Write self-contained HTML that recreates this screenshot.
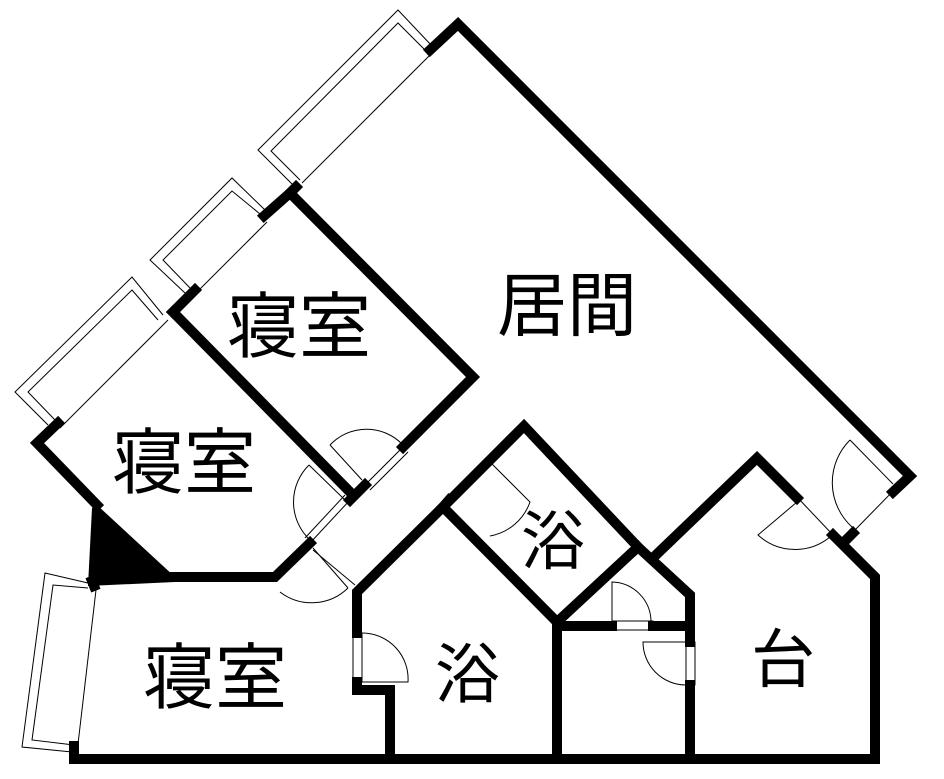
<!DOCTYPE html>
<html><head><meta charset="utf-8"><style>
html,body{margin:0;padding:0;background:#fff;}
svg{display:block;}
text{font-family:"Liberation Sans","Noto Sans CJK JP",sans-serif;fill:#000;}
</style></head><body>
<svg width="944" height="779" viewBox="0 0 944 779" xmlns="http://www.w3.org/2000/svg">
<g fill="none" stroke="#000" stroke-width="1">
<polyline points="432,46 398,10 258,150 296,188"/>
<polyline points="425,50 398,23 271,151 300,180"/>
<line x1="430" y1="55" x2="302" y2="183"/>
<polyline points="265,210 232,178 150,260 185,293"/>
<polyline points="260,214 232,191 163,260 190,288"/>
<line x1="267" y1="222" x2="197" y2="292"/>
<polyline points="163,315 132,277 15,392 48,425"/>
<polyline points="158,320 132,290 28,392 55,420"/>
<line x1="168" y1="320" x2="60" y2="428"/>
<polyline points="88,583 45,573 22,747 72,752"/>
<polyline points="88,588 53,585 32,740 74,745"/>
<line x1="96" y1="590" x2="78" y2="744"/>
<line x1="403" y1="447" x2="365" y2="485"/><line x1="408" y1="452" x2="370" y2="490"/>
<path d="M330,445 L362,480 M330,445 A50,50 0 0 1 402,444"/>
<line x1="350" y1="500" x2="310" y2="543"/><line x1="345" y1="495" x2="305" y2="538"/>
<path d="M309,465 L345,500 M309,465 A52,52 0 0 0 310,540"/>
<line x1="313" y1="550" x2="355" y2="585"/>
<path d="M313,548 L348,588 M280,592 A52,52 0 0 0 348,588"/>
<line x1="448" y1="500" x2="490" y2="462"/>
<path d="M490,462 L530,502 A52,52 0 0 1 490,536"/>
<rect x="353" y="633" width="9" height="49" fill="#fff"/>
<path d="M362,633 A46,46 0 0 1 408,682 L362,682"/>
<rect x="612" y="621" width="41" height="9" fill="#fff"/>
<path d="M612,621 L612,582 A40,40 0 0 1 651,621"/>
<rect x="686" y="642" width="9" height="43" fill="#fff"/>
<path d="M686,642 L643,642 A43,43 0 0 0 686,685"/>
<line x1="797" y1="497" x2="833" y2="535"/>
<path d="M797,502 L758,535 A55,55 0 0 0 830,537"/>
<line x1="897" y1="487" x2="853" y2="532"/>
<path d="M850,440 L893,484 M850,440 A60,60 0 0 0 852,527"/>
</g>
<g fill="none" stroke="#000" stroke-width="10" stroke-linejoin="miter" stroke-linecap="square">
<polyline points="430,50 458,24 910,476 893,492"/>
<line x1="853" y1="533" x2="845" y2="541"/>
<polyline points="833,535 875,577 875,759"/>
<polyline points="296,187 290,193 473,377 403,447"/>
<line x1="365" y1="485" x2="350" y2="500"/>
<line x1="264" y1="216" x2="290" y2="193"/>
<line x1="195" y1="290" x2="173" y2="312"/>
<line x1="173" y1="312" x2="350" y2="492"/>
<polyline points="58,423 37,443 97,505"/>
<polyline points="175,577 275,577 310,543"/>
<line x1="92" y1="581" x2="94" y2="586"/>
<polyline points="74,746 74,759 875,759"/>
<polyline points="357,633 357,592 443,507 524,426 638,547 690,595 690,642"/>
<polyline points="357,682 357,690 390,690 390,759"/>
<polyline points="443,507 557,622 638,547"/>
<line x1="449" y1="500" x2="443" y2="507"/>
<line x1="557" y1="622" x2="557" y2="759"/>
<line x1="690" y1="685" x2="690" y2="759"/>
<line x1="562" y1="626" x2="612" y2="626"/>
<line x1="653" y1="626" x2="690" y2="626"/>
<polyline points="658,553 757,458 797,498"/>
</g>
<polygon points="92,508 97,505 175,577 175,582 88,586" fill="#000"/>
<g font-size="70">
<text x="497" y="330">居間</text>
<text x="227" y="352" font-size="72">寝室</text>
<text x="112" y="488" font-size="72">寝室</text>
<text x="143" y="703" font-size="72">寝室</text>
<text x="521" y="564" font-size="64">浴</text>
<text x="435" y="697" font-size="65">浴</text>
<text x="751" y="682" font-size="64">台</text>
</g>
</svg>
</body></html>
